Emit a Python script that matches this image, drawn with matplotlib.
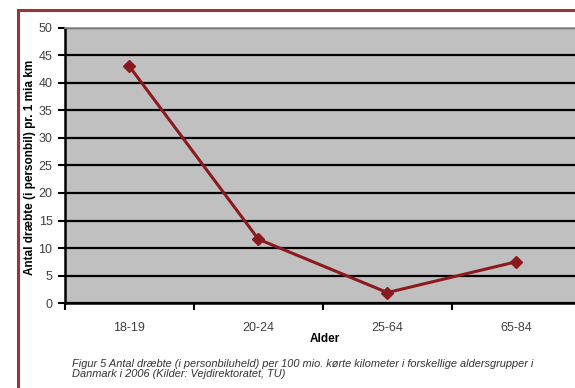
import matplotlib.pyplot as plt
from matplotlib.lines import Line2D

plt.rcParams['font.family'] = ['Liberation Sans', 'DejaVu Sans']

# dræbte pr. 1 mia km fordelt på aldersgrupper
aldersgrupper = ["18-19", "20-24", "25-64", "65-84"]
draebte = [43.0, 11.6, 1.9, 7.5]
y_ticks = [0, 5, 10, 15, 20, 25, 30, 35, 40, 45, 50]

fig = plt.figure(figsize=(5.75, 3.88), dpi=100)
ax = fig.add_axes([0.113, 0.219, 0.897, 0.709])
ax.set_facecolor("#c0c0c0")

x = range(len(aldersgrupper))
ax.plot(x, draebte, color="#8b1a1f", lw=2.2, marker="D", ms=6,
        mec="#8b1a1f", mfc="#8b1a1f", zorder=3)

ax.set_xlim(-0.5, len(aldersgrupper) - 0.5)
ax.set_ylim(0, 50)
ax.set_yticks(y_ticks)
ax.set_xticks([i - 0.5 for i in range(len(aldersgrupper) + 1)])
ax.set_xticklabels([])
ax.set_xticks(list(x), minor=True)
ax.set_xticklabels(aldersgrupper, minor=True)
ax.tick_params(axis="x", which="minor", length=0, pad=14,
               labelsize=9, labelcolor="#404040")
ax.tick_params(axis="x", which="major", length=5, width=1.5, direction="out")
ax.tick_params(axis="y", length=5, width=1.5, direction="out",
               labelsize=9, labelcolor="#404040", pad=4)

ax.grid(axis="y", color="black", lw=1.6)
ax.set_axisbelow(True)
for s in ["left", "bottom"]:
    ax.spines[s].set_color("black")
    ax.spines[s].set_linewidth(1.8)
ax.spines["top"].set_color("#909090")
ax.spines["top"].set_linewidth(1.2)
ax.spines["right"].set_visible(False)

# aksetitler sat direkte på figuren
fig.text(30 / 575, 1 - 167 / 388, "Antal dræbte (i personbil) pr. 1 mia km",
         rotation=90, ha="center", va="center", fontsize=8.5, fontweight="bold")
fig.text(325 / 575, 1 - 339 / 388, "Alder", ha="center", va="center",
         fontsize=8.5, fontweight="bold")

fig.text(72 / 575, 1 - 369 / 388,
         "Figur 5 Antal dræbte (i personbiluheld) per 100 mio. kørte kilometer i forskellige aldersgrupper i\n"
         "Danmark i 2006 (Kilder: Vejdirektoratet, TU)",
         fontsize=7.9, style="italic", color="#333333", linespacing=1.05,
         va="center")

# rød ramme om figuren
fig.add_artist(Line2D([18 / 575, 18 / 575], [0, 1 - 10 / 388],
                      transform=fig.transFigure, color="#9a3438", lw=2.2))
fig.add_artist(Line2D([18 / 575, 1], [1 - 10 / 388, 1 - 10 / 388],
                      transform=fig.transFigure, color="#9a3438", lw=2.2))

fig.savefig("out.png", dpi=100)
